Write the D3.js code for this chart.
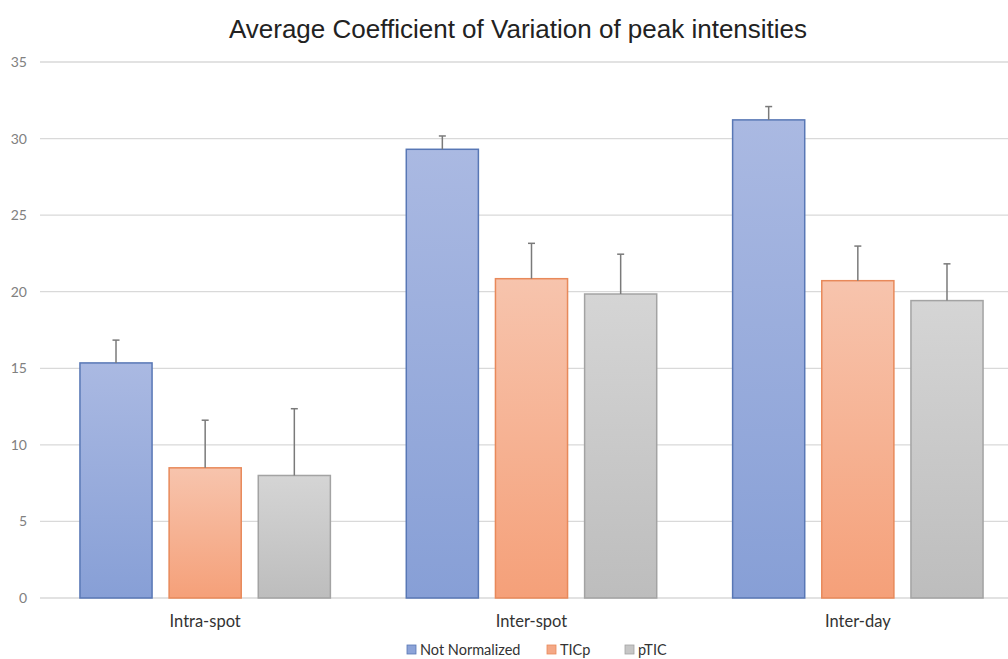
<!DOCTYPE html>
<html><head><meta charset="utf-8">
<script src="https://cdn.jsdelivr.net/npm/d3@7"></script>
<style>html,body{margin:0;padding:0;background:#fff;overflow:hidden}</style>
</head><body>
<svg id="c" width="1008" height="659"></svg>
<script>
const categories = ["Intra-spot", "Inter-spot", "Inter-day"];
const seriesNames = ["Not Normalized", "TICp", "pTIC"];
const notNormalized = [15.35, 29.3, 31.22];
const ticp = [8.5, 20.85, 20.72];
const ptic = [8.0, 19.85, 19.42];
const errNotNormalized = [1.49, 0.87, 0.87];
const errTicp = [3.11, 2.31, 2.26];
const errPtic = [4.36, 2.6, 2.4];
const yTicks = [0, 5, 10, 15, 20, 25, 30, 35];

const series = [notNormalized, ticp, ptic];
const errs = [errNotNormalized, errTicp, errPtic];
const fills = [["#aab9e2", "#879fd6"], ["#f7c4ad", "#f5a079"], ["#d5d5d5", "#bdbdbd"]];
const strokes = ["#5877b5", "#e8895a", "#a3a3a3"];
const legendColors = ["#8ca3d8", "#f4a886", "#c6c6c6"];

const svg = d3.select("#c");
const defs = svg.append("defs");
fills.forEach((f, i) => {
  const g = defs.append("linearGradient").attr("id", "g" + i).attr("x1", 0).attr("y1", 0).attr("x2", 0).attr("y2", 1);
  g.append("stop").attr("offset", "0%").attr("stop-color", f[0]);
  g.append("stop").attr("offset", "100%").attr("stop-color", f[1]);
});

const mLeft = 42, mRight = 1021, mTop = 62, mBottom = 598;
const x = d3.scaleBand().domain(categories).range([mLeft, mRight]).paddingInner(0).paddingOuter(0);
const x1 = d3.scaleBand().domain(seriesNames).range([0, x.bandwidth()]).paddingInner(0.18).paddingOuter(0.42);
const y = d3.scaleLinear().domain([0, 35]).range([mBottom, mTop]);

// gridlines
svg.append("g").selectAll("line").data(yTicks).join("line")
  .attr("x1", 40).attr("x2", 1008)
  .attr("y1", d => y(d)).attr("y2", d => y(d))
  .attr("stroke", "#d9d9d9").attr("stroke-width", 1.3);

// y tick labels
svg.append("g").selectAll("text").data(yTicks).join("text")
  .attr("x", 27).attr("y", d => y(d) + 5)
  .attr("text-anchor", "end")
  .attr("font-family", "Lato, 'Open Sans', sans-serif").attr("font-size", 14)
  .attr("fill", "#808080").text(d => d);

// bars
const groups = svg.append("g").selectAll("g").data(categories).join("g")
  .attr("transform", c => `translate(${x(c)},0)`);

seriesNames.forEach((s, si) => {
  groups.append("rect")
    .attr("x", x1(s) + 0.5)
    .attr("width", x1.bandwidth() - 1)
    .attr("y", (c, ci) => y(series[si][ci]))
    .attr("height", (c, ci) => y(0) - y(series[si][ci]))
    .attr("fill", `url(#g${si})`)
    .attr("stroke", strokes[si]).attr("stroke-width", 1.5);
  const cx = x1(s) + x1.bandwidth() / 2;
  groups.append("line")
    .attr("x1", cx).attr("x2", cx)
    .attr("y1", (c, ci) => y(series[si][ci]))
    .attr("y2", (c, ci) => y(series[si][ci] + errs[si][ci]))
    .attr("stroke", "#7a7a7a").attr("stroke-width", 1.5);
  groups.append("line")
    .attr("x1", cx - 3.5).attr("x2", cx + 3.5)
    .attr("y1", (c, ci) => y(series[si][ci] + errs[si][ci]))
    .attr("y2", (c, ci) => y(series[si][ci] + errs[si][ci]))
    .attr("stroke", "#7a7a7a").attr("stroke-width", 1.5);
});

// category labels
svg.append("g").selectAll("text").data(categories).join("text")
  .attr("x", c => x(c) + x.bandwidth() / 2).attr("y", 627)
  .attr("text-anchor", "middle")
  .attr("font-family", "Lato, 'Open Sans', sans-serif").attr("font-size", 16.5)
  .attr("fill", "#333").text(c => c);

// title
svg.append("text").attr("x", 518).attr("y", 38).attr("text-anchor", "middle")
  .attr("font-family", "'Liberation Sans', Arial, sans-serif").attr("font-size", 26)
  .attr("fill", "#222").text("Average Coefficient of Variation of peak intensities");

// legend
const legX = [407, 547, 625];
const leg = svg.append("g").selectAll("g").data(seriesNames).join("g")
  .attr("transform", (d, i) => `translate(${legX[i]},645)`);
leg.append("rect").attr("x", 0).attr("y", 0).attr("width", 9).attr("height", 9)
  .attr("fill", (d, i) => legendColors[i]).attr("stroke", (d, i) => strokes[i]).attr("stroke-width", 0.8);
leg.append("text").attr("x", 13).attr("y", 10)
  .attr("font-family", "Lato, 'Open Sans', sans-serif").attr("font-size", 14.5)
  .attr("fill", "#333").text(d => d);
</script>
</body></html>
